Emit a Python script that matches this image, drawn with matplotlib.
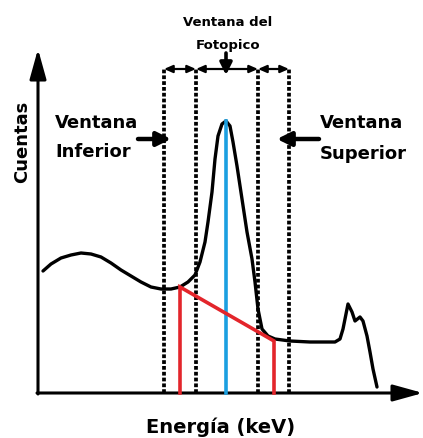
import matplotlib
matplotlib.use("Agg")
import matplotlib.pyplot as plt

# Spectrum (energy, counts)
energy = [5, 13, 23, 33, 43, 53, 63, 73, 83, 93, 103, 113, 123, 133, 142, 150,
          157, 162, 167, 170, 174, 177, 180, 184, 188, 192, 195, 199, 204, 209,
          214, 217, 220, 224, 230, 237, 252, 272, 297, 302, 305, 310, 314, 317,
          322, 325, 329, 332, 335, 339]
counts = [122, 129, 135, 138, 140, 139, 136, 130, 123, 117, 111, 106, 104, 104, 106, 111,
          118, 131, 151, 171, 201, 234, 257, 269, 272, 267, 251, 227, 194, 161,
          134, 111, 84, 64, 57, 54, 52, 51, 51, 54, 64, 89, 81, 72,
          76, 72, 57, 41, 24, 6]

# Window boundaries
window_edges = [126, 158, 220, 251]
window_top = 324
photopeak_energy = 188
photopeak_counts = 272
# Trapezoid background (red)
bg_energy = [142, 236]
bg_counts = [106, 52]

x_max, y_max = 385, 344

fig = plt.figure(figsize=(4.23, 4.39), dpi=100)
ax = fig.add_axes([0, 0, 1, 1])
ax.set_xlim(-38, 385)
ax.set_ylim(-45, 394)
ax.axis("off")

font = dict(family="DejaVu Sans", weight="bold", color="black")

# Axes arrows
axis_arrow = dict(arrowstyle="-|>,head_length=1.3,head_width=0.36",
                  lw=2.2, color="black", mutation_scale=14, shrinkA=0, shrinkB=0)
ax.annotate("", xy=(x_max, 0), xytext=(-1, 0), arrowprops=axis_arrow)
ax.annotate("", xy=(0, y_max), xytext=(0, -1), arrowprops=axis_arrow)

# Dashed window lines
for xe in window_edges:
    ax.plot([xe, xe], [0, window_top], color="black", lw=2.7,
            linestyle=(0, (1.0, 0.55)), dash_capstyle="butt")

# Double arrows at top
for a, b in zip(window_edges[:-1], window_edges[1:]):
    ax.annotate("", xy=(b, window_top), xytext=(a, window_top),
                arrowprops=dict(arrowstyle="<|-|>,head_length=0.5,head_width=0.22",
                                lw=1.6, color="black", mutation_scale=10,
                                shrinkA=0, shrinkB=0))

# Spectrum curve
ax.plot(energy, counts, color="black", lw=2.4, solid_joinstyle="round",
        solid_capstyle="round", zorder=3)

# Photopeak line
ax.plot([photopeak_energy, photopeak_energy], [0, photopeak_counts],
        color="#1b9fe0", lw=2.6, zorder=4)

# Red background trapezoid
ax.plot([bg_energy[0], bg_energy[0], bg_energy[1], bg_energy[1]],
        [0, bg_counts[0], bg_counts[1], 0], color="#e3252b", lw=2.6,
        solid_joinstyle="miter", zorder=5)

# Labels
ax.text(190, 372, "Ventana del", ha="center", va="center", fontsize=9.5, **font)
ax.text(190, 349, "Fotopico", ha="center", va="center", fontsize=9.5, **font)
ax.annotate("", xy=(188, 318), xytext=(188, 340),
            arrowprops=dict(arrowstyle="-|>,head_length=0.6,head_width=0.3",
                            lw=2.6, color="black", mutation_scale=12, shrinkA=0, shrinkB=0))

side_arrow = dict(arrowstyle="-|>,head_length=0.7,head_width=0.35",
                  lw=3.2, color="black", mutation_scale=12, shrinkA=0, shrinkB=0)
ax.text(17, 271, "Ventana", ha="left", va="center", fontsize=13, **font)
ax.text(17, 242, "Inferior", ha="left", va="center", fontsize=13, **font)
ax.annotate("", xy=(133, 254), xytext=(100, 254), arrowprops=side_arrow)

ax.text(282, 271, "Ventana", ha="left", va="center", fontsize=13, **font)
ax.text(282, 240, "Superior", ha="left", va="center", fontsize=13, **font)
ax.annotate("", xy=(239, 254), xytext=(281, 254), arrowprops=side_arrow)

ax.text(-16, 252, "Cuentas", ha="center", va="center", rotation=90, fontsize=13, **font)
ax.text(183, -33, "Energía (keV)", ha="center", va="center", fontsize=14, **font)

fig.savefig("out.png", dpi=100)
